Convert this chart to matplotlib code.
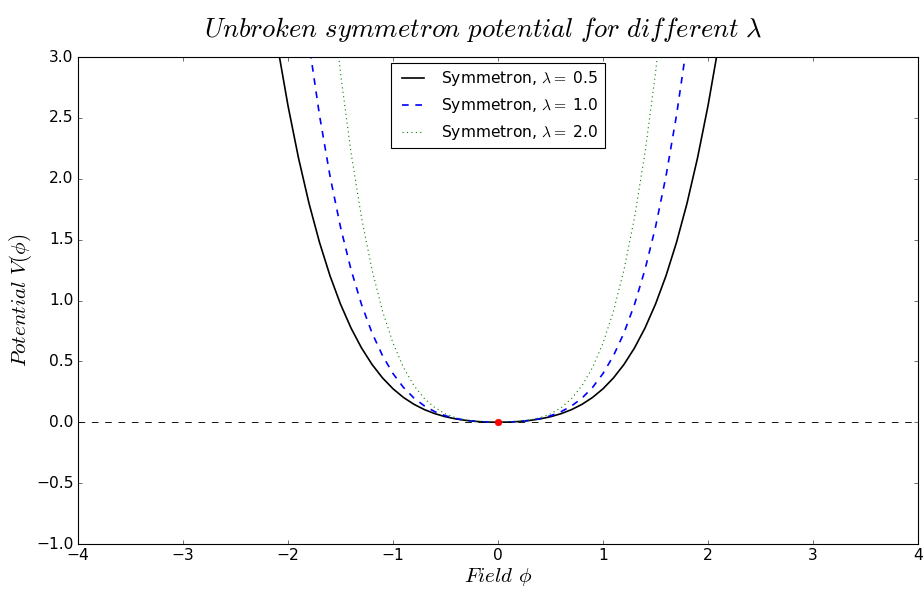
import numpy as np
import matplotlib
matplotlib.use('Agg')
import matplotlib.pyplot as plt

plt.style.use('classic')

# field values (positive half, curves are symmetric)
phi_half = [0.0, 0.1, 0.2, 0.3, 0.4, 0.5, 0.6, 0.7, 0.8, 0.9, 1.0, 1.1,
            1.2, 1.3, 1.4, 1.5, 1.6, 1.7, 1.8, 1.9, 2.0, 2.1, 2.2]

# potential values
v_lam05 = [0.0, 0.0015, 0.0062, 0.0145, 0.0272, 0.0453, 0.0702, 0.1035,
           0.1472, 0.2035, 0.275, 0.3645, 0.4752, 0.6105, 0.7742, 0.9703,
           1.2032, 1.4775, 1.7982, 2.1705, 2.6, 3.0925, 3.654]
v_lam10 = [0.0, 0.0015, 0.0064, 0.0155, 0.0304, 0.0531, 0.0864, 0.1335,
           0.1984, 0.2855, 0.4, 0.5475, 0.7344, 0.9675, 1.2544, 1.6031,
           2.0224, 2.5215, 3.1104, 3.7995]
v_lam20 = [0.0, 0.0016, 0.0068, 0.0175, 0.0368, 0.0688, 0.1188, 0.1935,
           0.3008, 0.4495, 0.65, 0.9135, 1.2528, 1.6815, 2.2148, 2.8688,
           3.6608]

lambdas = ['0.5', '1.0', '2.0']
styles = ['k-', 'b--', 'g:']


def mirror(vals):
    x = np.array(phi_half[:len(vals)])
    v = np.array(vals)
    return np.concatenate([-x[:0:-1], x]), np.concatenate([v[:0:-1], v])


fig = plt.figure(figsize=(923 / 80, 589 / 80), dpi=80)
ax = fig.add_axes([0.0845, 0.0764, 0.9101, 0.8268])

for vals, lam, st in zip([v_lam05, v_lam10, v_lam20], lambdas, styles):
    x, v = mirror(vals)
    lw = 1.5 if st != 'g:' else 1.0
    ax.plot(x, v, st, lw=lw, label=r'Symmetron, $\lambda =$ ' + lam)

ax.axhline(0, color='k', ls='--', lw=0.8)
ax.plot([0], [0], 'ro', ms=6, mec='r')

ax.set_xlim(-4, 4)
ax.set_ylim(-1, 3)
ax.tick_params(labelsize=14)
ax.set_title(r'$Unbroken\ symmetron\ potential\ for\ different\ \lambda$',
             fontsize=24, x=0.482, y=1.03)
ax.set_xlabel(r'$Field\ \phi$', fontsize=19, labelpad=2)
ax.set_ylabel(r'$Potential\ V(\phi)$', fontsize=19, labelpad=2)
ax.legend(loc='upper center', fontsize=14, borderaxespad=0.4)

fig.savefig('out.png', dpi=80, facecolor='white')
